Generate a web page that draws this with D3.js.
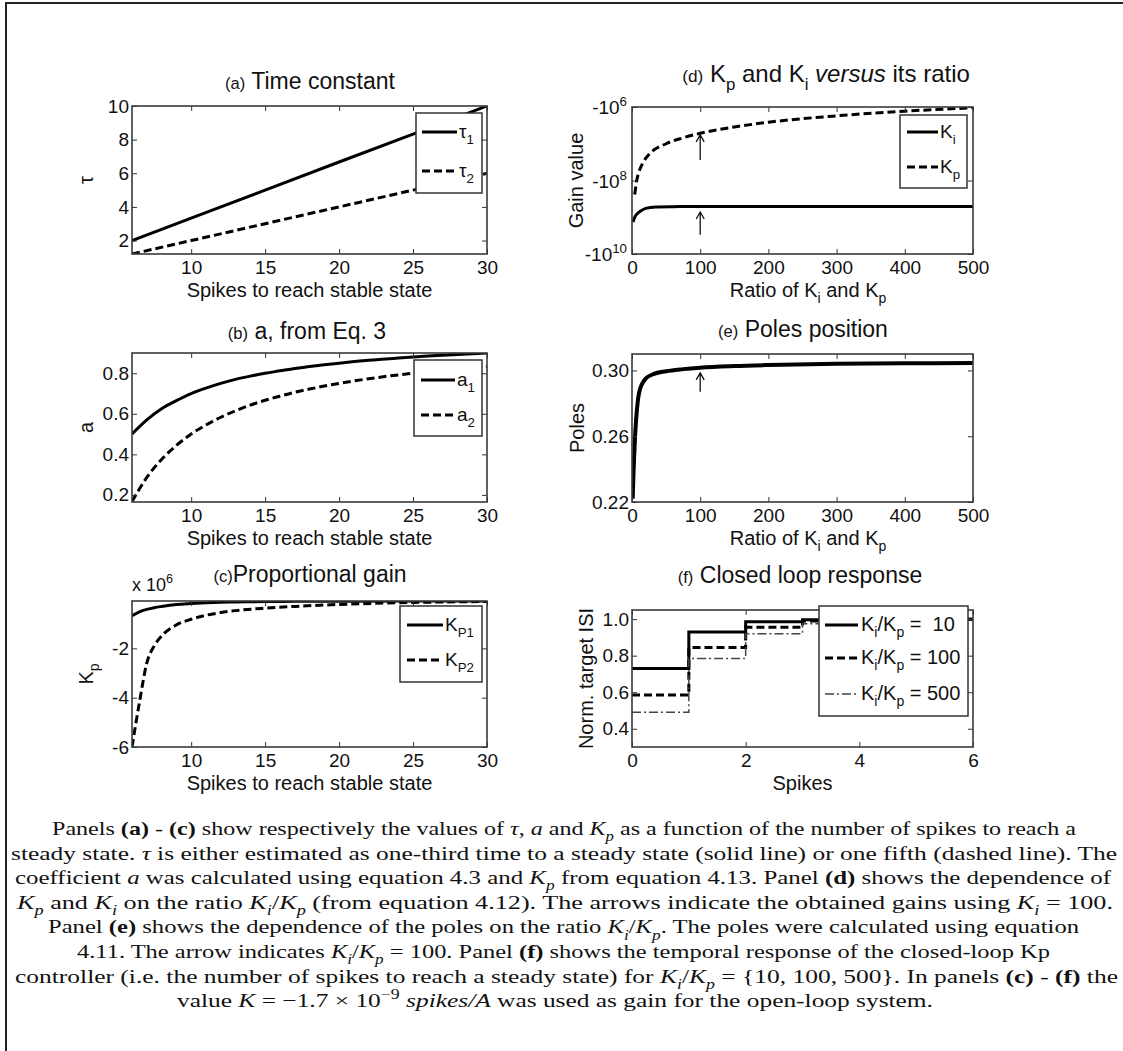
<!DOCTYPE html>
<html>
<head>
<meta charset="utf-8">
<script src="https://cdn.jsdelivr.net/npm/d3@7"></script>
<style>
  body { margin: 0; background: #fff; }
  svg { display: block; }
  text { white-space: pre; }
</style>
</head>
<body>
<script>
// (a) time constant
var spikesLin = [6, 10, 15, 20, 25, 30];
var tau1 = [2.0, 3.33, 5.0, 6.67, 8.33, 10.0];
var tau2 = [1.2, 2.0, 3.0, 4.0, 5.0, 6.0];

// (b) a coefficient
var spikesA = [6, 7, 8, 9, 10, 11, 12, 13, 14, 15, 16, 17, 18, 19, 20, 22, 24, 26, 28, 30];
var a1 = [0.50, 0.57, 0.625, 0.665, 0.70, 0.727, 0.75, 0.77, 0.786, 0.80, 0.812, 0.824, 0.833, 0.842, 0.85, 0.864, 0.875, 0.885, 0.893, 0.90];
var a2 = [0.167, 0.286, 0.375, 0.444, 0.50, 0.545, 0.583, 0.615, 0.643, 0.667, 0.687, 0.706, 0.722, 0.737, 0.75, 0.773, 0.792, 0.808, 0.821, 0.833];

// (c) proportional gain, x 10^6
var spikesKp = [6, 6.5, 7, 7.5, 8, 9, 10, 11, 12, 13, 15, 17, 20, 25, 30];
var kp1 = [-0.68, -0.52, -0.42, -0.35, -0.30, -0.22, -0.18, -0.15, -0.13, -0.12, -0.10, -0.095, -0.09, -0.085, -0.08];
var kp2 = [-6.0, -4.2, -2.6, -1.9, -1.5, -1.05, -0.82, -0.66, -0.55, -0.47, -0.37, -0.30, -0.22, -0.14, -0.10];

// (d) gains versus ratio Ki/Kp
var ratioKi = [1.5, 3, 5, 8, 12, 20, 35, 60, 100, 200, 300, 400, 500];
var gainKi = [-1.35e9, -1.12e9, -9.3e8, -7.9e8, -6.9e8, -5.75e8, -5.25e8, -5.15e8, -5.1e8, -5.1e8, -5.1e8, -5.1e8, -5.1e8];
var ratioKp = [4, 7, 10, 16, 26, 50, 75, 100, 150, 200, 300, 400, 500];
var gainKp = [-2.4e8, -9.8e7, -6.0e7, -3.3e7, -1.86e7, -1.0e7, -6.9e6, -5.2e6, -3.5e6, -2.6e6, -1.74e6, -1.3e6, -1.05e6];
var gainTickExp = [6, 8, 10];
var arrowsD = [{ at: 100, from: -2.75e7, to: -5.75e6 }, { at: 100, from: -3.0e9, to: -7.2e8 }];

// (e) poles
var ratioPoles = [1, 2, 3, 4.5, 6, 9, 12, 15, 20, 30, 50, 75, 100, 150, 200, 300, 400, 500];
var poles = [0.222, 0.235, 0.246, 0.26, 0.27, 0.283, 0.289, 0.292, 0.295, 0.2975, 0.2995, 0.3008, 0.3017, 0.3027, 0.3033, 0.304, 0.3043, 0.3045];
var arrowsE = [{ at: 100, from: 0.287, to: 0.2985 }];

// (f) closed loop response
var spikesStep = [0, 1, 2, 3, 4, 5, 6];
var isi10 = [0.73, 0.93, 0.985, 0.997, 1.0, 1.0, 1.0];
var isi100 = [0.585, 0.845, 0.955, 0.99, 0.998, 1.0, 1.0];
var isi500 = [0.49, 0.785, 0.92, 0.975, 0.993, 0.998, 1.0];

var SANS = 'Liberation Sans, Arial, Helvetica, sans-serif';
var SERIF = 'Liberation Serif, Times New Roman, serif';
var INK = '#111';

var svg = d3.select('body').append('svg').attr('width', 1123).attr('height', 1051);

// page frame (top and left edges only)
svg.append('path').attr('d', 'M6,1051V3H1123')
  .attr('fill', 'none').attr('stroke', '#222').attr('stroke-width', 2);

// parts: [text, flags] flags among 'b' 'i' 'sub' 'sup' 'sm'
function rich(text, parts, size) {
  var shift = 0;
  parts.forEach(function(p) {
    var flags = (p[1] || '').split(' ');
    var ts = text.append('tspan').text(p[0]);
    var want = 0, fs = size;
    if (flags.indexOf('sub') >= 0) { want = size * 0.32; fs = size * 0.7; }
    if (flags.indexOf('sup') >= 0) { want = -size * 0.42; fs = size * 0.7; }
    if (flags.indexOf('sm') >= 0) fs = size * 0.72;
    if (fs !== size) ts.attr('font-size', fs);
    if (want !== shift) { ts.attr('dy', want - shift); shift = want; }
    if (flags.indexOf('b') >= 0) ts.attr('font-weight', 'bold');
    if (flags.indexOf('i') >= 0) ts.attr('font-style', 'italic');
  });
  return text;
}

var styles = {
  solid: { width: 3 },
  dashed: { width: 3, dash: '8,4' },
  dashdot: { width: 1.5, dash: '9,3,2,3', color: '#444' }
};

// plain hyphen minus, like the original figure
var fmtInt = function(d) { return String(d); };

function panel(p) {
  var x = p.x, y = p.y, yf = p.yf || p.y;
  var x0 = x.range()[0], x1 = x.range()[1];
  var yb = y.range()[0], yt = y.range()[1];
  var g = svg.append('g');

  g.append('clipPath').attr('id', 'clip-' + p.id).append('rect')
    .attr('x', x0).attr('y', yt).attr('width', x1 - x0).attr('height', yb - yt);
  var plot = g.append('g').attr('clip-path', 'url(#clip-' + p.id + ')');

  p.series.forEach(function(s) {
    var st = styles[s.style];
    var line = d3.line()
      .x(function(d, i) { return x(s.xs[i]); })
      .y(function(d) { return yf(d); })
      .curve(s.curve || d3.curveMonotoneX);
    plot.append('path').datum(s.ys).attr('d', line)
      .attr('fill', 'none').attr('stroke', st.color || '#000')
      .attr('stroke-width', s.width || st.width)
      .attr('stroke-dasharray', st.dash || null);
  });

  (p.arrows || []).forEach(function(a) {
    var ax = x(a.at), y1 = yf(a.from), y2 = yf(a.to);
    g.append('path')
      .attr('d', 'M' + ax + ',' + y1 + 'V' + y2 + 'M' + (ax - 4) + ',' + (y2 + 7) + 'L' + ax + ',' + y2 + 'L' + (ax + 4) + ',' + (y2 + 7))
      .attr('fill', 'none').attr('stroke', '#111').attr('stroke-width', 1.3);
  });

  function styleAxis(sel) {
    sel.select('.domain').remove();
    sel.selectAll('line').attr('stroke', '#333');
    sel.selectAll('text').attr('font-family', SANS).attr('font-size', 19).attr('fill', INK);
  }
  g.append('g').attr('transform', 'translate(0,' + yb + ')')
    .call(d3.axisBottom(x).tickValues(p.xticks).tickSize(-5).tickPadding(7).tickFormat(fmtInt))
    .call(styleAxis);
  g.append('g').attr('transform', 'translate(0,' + yt + ')')
    .call(d3.axisTop(x).tickValues(p.xticks).tickSize(-5).tickFormat(''))
    .call(styleAxis);
  g.append('g').attr('transform', 'translate(' + x0 + ',0)')
    .call(d3.axisLeft(y).tickValues(p.yticks).tickSize(-5).tickPadding(3).tickFormat(p.yfmt || ''))
    .call(styleAxis);
  g.append('g').attr('transform', 'translate(' + x1 + ',0)')
    .call(d3.axisRight(y).tickValues(p.yticks).tickSize(-5).tickFormat(''))
    .call(styleAxis);
  if (p.ylabelParts) {
    p.yticks.forEach(function(v, i) {
      rich(g.append('text').attr('x', x0 - 5).attr('y', y(v) + 7)
        .attr('text-anchor', 'end').attr('font-family', SANS).attr('font-size', 19).attr('fill', INK),
        p.ylabelParts[i], 19);
    });
  }

  g.append('rect').attr('x', x0).attr('y', yt).attr('width', x1 - x0).attr('height', yb - yt)
    .attr('fill', 'none').attr('stroke', '#3a3a3a').attr('stroke-width', 1.6);

  if (p.legend) {
    var L = p.legend, lfs = L.size || 19;
    g.append('rect').attr('x', L.x).attr('y', L.y).attr('width', L.w).attr('height', L.h)
      .attr('fill', '#fff').attr('stroke', '#333').attr('stroke-width', 1.5);
    L.items.forEach(function(it) {
      var st = styles[p.series[it.series].style];
      g.append('line').attr('x1', L.lx0).attr('x2', L.lx1).attr('y1', it.y).attr('y2', it.y)
        .attr('stroke', st.color || '#000').attr('stroke-width', st.width)
        .attr('stroke-dasharray', st.dash || null);
      rich(g.append('text').attr('x', L.tx).attr('y', it.y + 6)
        .attr('font-family', SANS).attr('font-size', lfs).attr('fill', INK), it.parts, lfs);
    });
  }

  rich(g.append('text').attr('x', p.titleX).attr('y', p.titleY).attr('text-anchor', 'middle')
    .attr('font-family', SANS).attr('font-size', p.titleSize || 23).attr('fill', INK), p.title, p.titleSize || 23);
  rich(g.append('text').attr('x', p.xlabelX || (x0 + x1) / 2).attr('y', yb + 43).attr('text-anchor', 'middle')
    .attr('font-family', SANS).attr('font-size', 20).attr('fill', INK), p.xlabel, 20);
  rich(g.append('text')
    .attr('transform', 'translate(' + p.ylabelX + ',' + (yb + yt) / 2 + ') rotate(-90)')
    .attr('text-anchor', 'middle')
    .attr('font-family', SANS).attr('font-size', 20).attr('fill', INK), p.ylabel, 20);
  return g;
}

var spikesLabel = [['Spikes to reach stable state', '']];
var ratioLabel = [['Ratio of K', ''], ['i', 'sub'], [' and K', ''], ['p', 'sub']];

// (a)
panel({
  id: 'a',
  x: d3.scaleLinear().domain([6, 30]).range([132, 487]),
  y: d3.scaleLinear().domain([1.2, 10]).range([254, 106]),
  xticks: [10, 15, 20, 25, 30], yticks: [2, 4, 6, 8, 10], yfmt: fmtInt,
  series: [
    { xs: spikesLin, ys: tau1, style: 'solid', curve: d3.curveLinear },
    { xs: spikesLin, ys: tau2, style: 'dashed', curve: d3.curveLinear }
  ],
  legend: { x: 416, y: 113, w: 66, h: 80, lx0: 422, lx1: 457, tx: 459,
    items: [{ series: 0, y: 132, parts: [['τ', ''], ['1', 'sub']] },
            { series: 1, y: 171, parts: [['τ', ''], ['2', 'sub']] }] },
  title: [['(a)', 'sm'], [' Time constant', '']], titleX: 310, titleY: 89,
  xlabel: spikesLabel, ylabel: [['τ', '']], ylabelX: 93
});

// (b)
panel({
  id: 'b',
  x: d3.scaleLinear().domain([6, 30]).range([132, 487]),
  y: d3.scaleLinear().domain([0.165, 0.9]).range([502, 353]),
  xticks: [10, 15, 20, 25, 30], yticks: [0.2, 0.4, 0.6, 0.8], yfmt: d3.format('.1f'),
  series: [
    { xs: spikesA, ys: a1, style: 'solid' },
    { xs: spikesA, ys: a2, style: 'dashed' }
  ],
  legend: { x: 414, y: 360, w: 68, h: 76, lx0: 421, lx1: 455, tx: 457,
    items: [{ series: 0, y: 380, parts: [['a', ''], ['1', 'sub']] },
            { series: 1, y: 415, parts: [['a', ''], ['2', 'sub']] }] },
  title: [['(b)', 'sm'], [' a, from Eq. 3', '']], titleX: 307, titleY: 339,
  xlabel: spikesLabel, ylabel: [['a', '']], ylabelX: 93
});

// (c)
var gC = panel({
  id: 'c',
  x: d3.scaleLinear().domain([6, 30]).range([132, 487]),
  y: d3.scaleLinear().domain([-6, -0.08]).range([747, 601]),
  xticks: [10, 15, 20, 25, 30], yticks: [-6, -4, -2], yfmt: fmtInt,
  series: [
    { xs: spikesKp, ys: kp1, style: 'solid' },
    { xs: spikesKp, ys: kp2, style: 'dashed' }
  ],
  legend: { x: 400, y: 606, w: 82, h: 76, lx0: 407, lx1: 443, tx: 445,
    items: [{ series: 0, y: 625, parts: [['K', ''], ['P1', 'sub']] },
            { series: 1, y: 660, parts: [['K', ''], ['P2', 'sub']] }] },
  title: [['(c)', 'sm'], ['Proportional gain', '']], titleX: 310, titleY: 582,
  xlabel: spikesLabel, ylabel: [['K', ''], ['p', 'sub']], ylabelX: 93
});
rich(gC.append('text').attr('x', 132).attr('y', 591)
  .attr('font-family', SANS).attr('font-size', 18).attr('fill', INK),
  [['x 10', ''], ['6', 'sup']], 18);

// (d)
var yD = d3.scaleLog().domain([1e10, 1e6]).range([254, 107]);
panel({
  id: 'd',
  x: d3.scaleLinear().domain([0, 500]).range([632, 973]),
  y: yD, yf: function(v) { return yD(-v); },
  xticks: [0, 100, 200, 300, 400, 500],
  yticks: gainTickExp.map(function(e) { return Math.pow(10, e); }),
  ylabelParts: gainTickExp.map(function(e) { return [['-10', ''], [String(e), 'sup']]; }),
  series: [
    { xs: ratioKi, ys: gainKi, style: 'solid' },
    { xs: ratioKp, ys: gainKp, style: 'dashed' }
  ],
  arrows: arrowsD,
  legend: { x: 900, y: 115, w: 67, h: 73, lx0: 907, lx1: 938, tx: 940,
    items: [{ series: 0, y: 132, parts: [['K', ''], ['i', 'sub']] },
            { series: 1, y: 167, parts: [['K', ''], ['p', 'sub']] }] },
  title: [['(d)', 'sm'], [' K', ''], ['p', 'sub'], [' and K', ''], ['i', 'sub'], [' ', ''], ['versus', 'i'], [' its ratio', '']],
  titleX: 826, titleY: 82, titleSize: 24,
  xlabel: ratioLabel, xlabelX: 808, ylabel: [['Gain value', '']], ylabelX: 583
});

// (e)
panel({
  id: 'e',
  x: d3.scaleLinear().domain([0, 500]).range([632, 973]),
  y: d3.scaleLinear().domain([0.22, 0.31]).range([502, 354]),
  xticks: [0, 100, 200, 300, 400, 500], yticks: [0.22, 0.26, 0.30], yfmt: d3.format('.2f'),
  series: [{ xs: ratioPoles, ys: poles, style: 'solid', width: 4 }],
  arrows: arrowsE,
  title: [['(e)', 'sm'], [' Poles position', '']], titleX: 803, titleY: 337,
  xlabel: ratioLabel, xlabelX: 808, ylabel: [['Poles', '']], ylabelX: 584
});

// (f)
panel({
  id: 'f',
  x: d3.scaleLinear().domain([0, 6]).range([632, 973]),
  y: d3.scaleLinear().domain([0.3, 1.05]).range([747, 610]),
  xticks: [0, 2, 4, 6], yticks: [0.4, 0.6, 0.8, 1.0], yfmt: d3.format('.1f'),
  series: [
    { xs: spikesStep, ys: isi10, style: 'solid', curve: d3.curveStepAfter },
    { xs: spikesStep, ys: isi100, style: 'dashed', curve: d3.curveStepAfter },
    { xs: spikesStep, ys: isi500, style: 'dashdot', curve: d3.curveStepAfter }
  ],
  legend: { x: 819, y: 606, w: 149, h: 110, lx0: 825, lx1: 858, tx: 861, size: 20,
    items: [
      { series: 0, y: 625, parts: [['K', ''], ['i', 'sub'], ['/K', ''], ['p', 'sub'], [' =  10', '']] },
      { series: 1, y: 658, parts: [['K', ''], ['i', 'sub'], ['/K', ''], ['p', 'sub'], [' = 100', '']] },
      { series: 2, y: 694, parts: [['K', ''], ['i', 'sub'], ['/K', ''], ['p', 'sub'], [' = 500', '']] }] },
  title: [['(f)', 'sm'], [' Closed loop response', '']], titleX: 800, titleY: 583,
  xlabel: [['Spikes', '']], ylabel: [['Norm. target ISI', '']], ylabelX: 593
});

// caption
var captionLines = [
  { x0: 52, x1: 1076, parts: [['Panels ', ''], ['(a)', 'b'], [' - ', ''], ['(c)', 'b'], [' show respectively the values of ', ''], ['τ', 'i'], [', ', ''], ['a', 'i'], [' and ', ''], ['K', 'i'], ['p', 'i sub'], [' as a function of the number of spikes to reach a', '']] },
  { x0: 11, x1: 1117, parts: [['steady state. ', ''], ['τ', 'i'], [' is either estimated as one-third time to a steady state (solid line) or one fifth (dashed line). The', '']] },
  { x0: 15, x1: 1111, parts: [['coefficient ', ''], ['a', 'i'], [' was calculated using equation 4.3 and ', ''], ['K', 'i'], ['p', 'i sub'], [' from equation 4.13. Panel ', ''], ['(d)', 'b'], [' shows the dependence of', '']] },
  { x0: 17, x1: 1113, parts: [['K', 'i'], ['p', 'i sub'], [' and ', ''], ['K', 'i'], ['i', 'i sub'], [' on the ratio ', ''], ['K', 'i'], ['i', 'i sub'], ['/', ''], ['K', 'i'], ['p', 'i sub'], [' (from equation 4.12). The arrows indicate the obtained gains using ', ''], ['K', 'i'], ['i', 'i sub'], [' = 100.', '']] },
  { x0: 48, x1: 1079, parts: [['Panel ', ''], ['(e)', 'b'], [' shows the dependence of the poles on the ratio ', ''], ['K', 'i'], ['i', 'i sub'], ['/', ''], ['K', 'i'], ['p', 'i sub'], ['. The poles were calculated using equation', '']] },
  { x0: 77, x1: 1050, parts: [['4.11. The arrow indicates ', ''], ['K', 'i'], ['i', 'i sub'], ['/', ''], ['K', 'i'], ['p', 'i sub'], [' = 100. Panel ', ''], ['(f)', 'b'], [' shows the temporal response of the closed-loop Kp', '']] },
  { x0: 15, x1: 1118, parts: [['controller (i.e. the number of spikes to reach a steady state) for ', ''], ['K', 'i'], ['i', 'i sub'], ['/', ''], ['K', 'i'], ['p', 'i sub'], [' = {10, 100, 500}. In panels ', ''], ['(c)', 'b'], [' - ', ''], ['(f)', 'b'], [' the', '']] },
  { x0: 177, x1: 933, parts: [['value ', ''], ['K', 'i'], [' = −1.7 × 10', ''], ['−9', 'sup'], [' ', ''], ['spikes/A', 'i'], [' was used as gain for the open-loop system.', '']] }
];
captionLines.forEach(function(l, i) {
  rich(svg.append('text').attr('x', l.x0).attr('y', 835 + i * 24.6)
    .attr('textLength', l.x1 - l.x0).attr('lengthAdjust', 'spacingAndGlyphs')
    .attr('font-family', SERIF).attr('font-size', 19.5).attr('fill', '#111'), l.parts, 19.5);
});
</script>
</body>
</html>
